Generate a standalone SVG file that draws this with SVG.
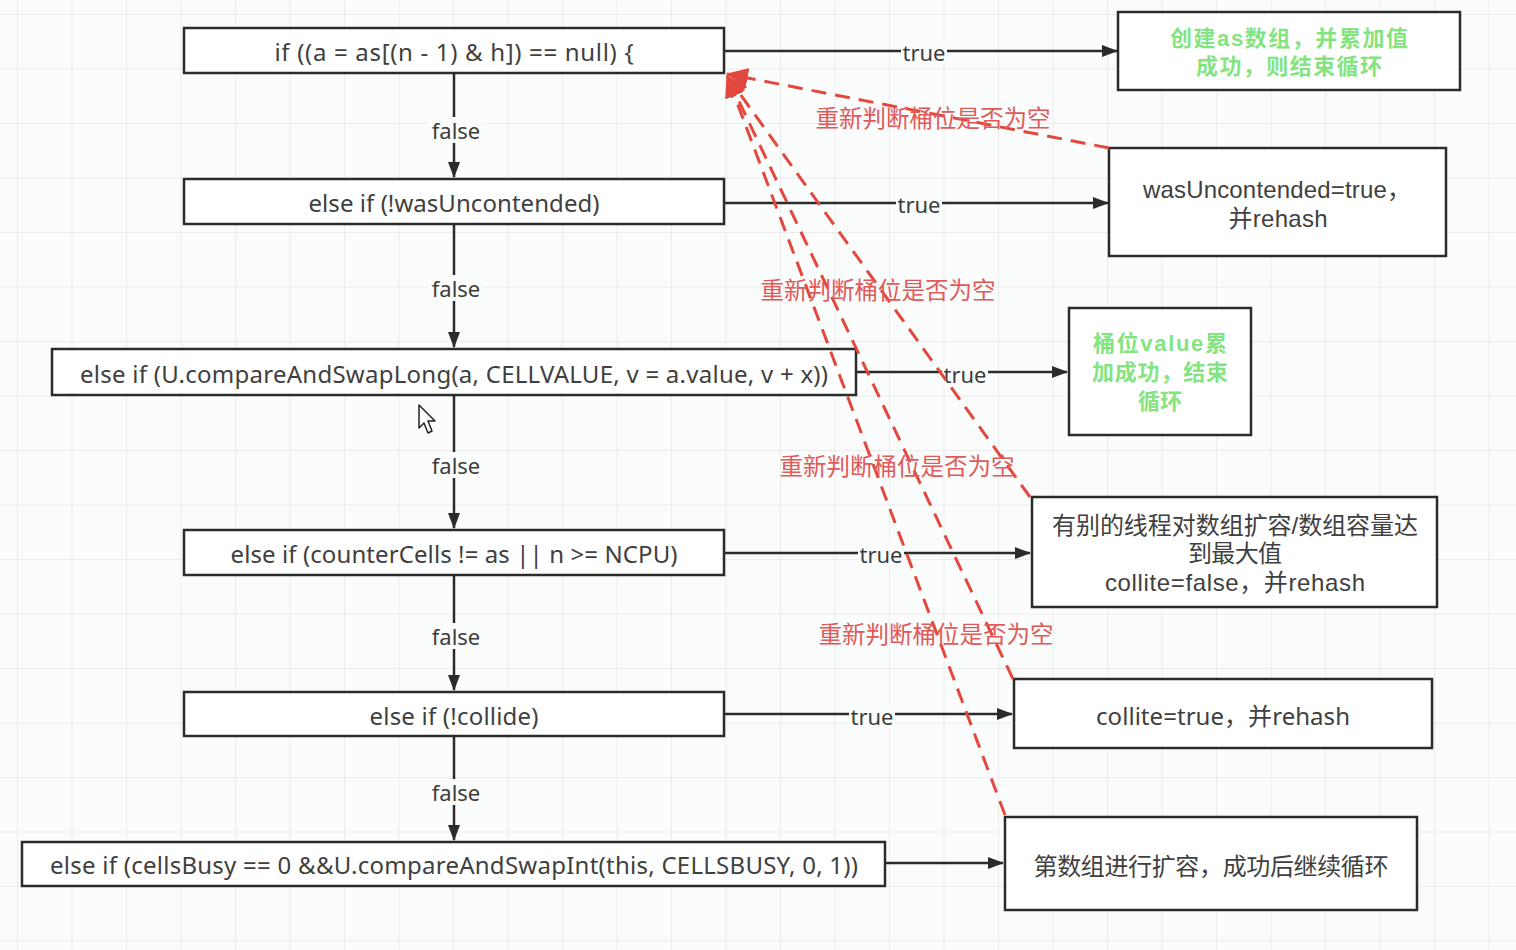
<svg xmlns="http://www.w3.org/2000/svg" width="1516" height="950" viewBox="0 0 1516 950">
<defs>
<pattern id="grid" x="17" y="14" width="54.5" height="54.5" patternUnits="userSpaceOnUse">
<path d="M0 0 H54.5 M0 0 V54.5" fill="none" stroke="#e6e8e8" stroke-width="1.5"/>
</pattern>
<marker id="arr" viewBox="0 0 16 12" refX="15" refY="6" markerWidth="16" markerHeight="12" markerUnits="userSpaceOnUse" orient="auto">
<path d="M0 0 L16 6 L0 12 Z" fill="#2b2b2b"/>
</marker>
<marker id="rarr" viewBox="0 0 20 18" refX="19" refY="9" markerWidth="22" markerHeight="20" markerUnits="userSpaceOnUse" orient="auto">
<path d="M0 0 L20 9 L0 18 Z" fill="#e2483e"/>
</marker>
</defs>
<style>
.box{fill:#ffffff;stroke:#2b2b2b;stroke-width:2.5}
.t{font-family:"Noto Sans","Noto Sans CJK SC",sans-serif;font-size:24px;fill:#404040;text-anchor:middle;dominant-baseline:central}
.m{font-family:"Liberation Sans","Noto Sans CJK SC",sans-serif;font-size:24px;fill:#404040;text-anchor:middle;dominant-baseline:central}
.g{font-family:"Liberation Sans","Noto Sans CJK SC",sans-serif;font-size:22px;font-weight:bold;fill:#84e47f;text-anchor:middle;dominant-baseline:central}
.lbl{font-family:"Noto Sans","Noto Sans CJK SC",sans-serif;font-size:22px;fill:#3c3c3c;text-anchor:middle;dominant-baseline:central}
.lb{fill:#fbfcfc}
.r{font-family:"Noto Sans CJK SC",sans-serif;font-size:23.5px;fill:#e05a5a;text-anchor:middle;dominant-baseline:central}
.e{stroke:#2b2b2b;stroke-width:2.5;fill:none;marker-end:url(#arr)}
.d{stroke:#e2483e;stroke-width:3;fill:none;stroke-dasharray:15 9;marker-end:url(#rarr)}
</style>
<rect width="1516" height="950" fill="#fbfcfc"/>
<rect width="1516" height="950" fill="url(#grid)"/>

<g id="connectors">
<line class="e" x1="454" y1="73" x2="454" y2="177"/>
<line class="e" x1="454" y1="224" x2="454" y2="347"/>
<line class="e" x1="454" y1="395" x2="454" y2="528"/>
<line class="e" x1="454" y1="575" x2="454" y2="690"/>
<line class="e" x1="454" y1="736" x2="454" y2="840"/>
<line class="e" x1="724" y1="51" x2="1117" y2="51"/>
<line class="e" x1="724" y1="203" x2="1108" y2="203"/>
<line class="e" x1="856" y1="372" x2="1067" y2="372"/>
<line class="e" x1="724" y1="553" x2="1030" y2="553"/>
<line class="e" x1="724" y1="714" x2="1012" y2="714"/>
<line class="e" x1="885" y1="863" x2="1003" y2="863"/>
<rect class="lb" x="428" y="117" width="54" height="26"/>
<text class="lbl" x="456" y="130">false</text>
<rect class="lb" x="428" y="275" width="54" height="26"/>
<text class="lbl" x="456" y="288">false</text>
<rect class="lb" x="428" y="452" width="54" height="26"/>
<text class="lbl" x="456" y="465">false</text>
<rect class="lb" x="428" y="623" width="54" height="26"/>
<text class="lbl" x="456" y="636">false</text>
<rect class="lb" x="428" y="779" width="54" height="26"/>
<text class="lbl" x="456" y="792">false</text>
<rect class="lb" x="901" y="40" width="46" height="24"/>
<text class="lbl" x="924" y="52">true</text>
<rect class="lb" x="896" y="192" width="46" height="24"/>
<text class="lbl" x="919" y="204">true</text>
<rect class="lb" x="942" y="362" width="46" height="24"/>
<text class="lbl" x="965" y="374">true</text>
<rect class="lb" x="858" y="542" width="46" height="24"/>
<text class="lbl" x="881" y="554">true</text>
<rect class="lb" x="849" y="704" width="46" height="24"/>
<text class="lbl" x="872" y="716">true</text>
</g>

<g id="n1"><rect class="box" x="184" y="28" width="540" height="45"/><text class="t" x="454" y="51" textLength="359">if ((a = as[(n - 1) &amp; h]) == null) {</text></g>
<g id="n2"><rect class="box" x="184" y="179" width="540" height="45"/><text class="t" x="454" y="202" textLength="291">else if (!wasUncontended)</text></g>
<g id="n3"><rect class="box" x="52" y="349" width="804" height="46"/><text class="t" x="454" y="373" textLength="748">else if (U.compareAndSwapLong(a, CELLVALUE, v = a.value, v + x))</text></g>
<g id="n4"><rect class="box" x="184" y="530" width="540" height="45"/><text class="t" x="454" y="553" textLength="447">else if (counterCells != as || n &gt;= NCPU)</text></g>
<g id="n5"><rect class="box" x="184" y="692" width="540" height="44"/><text class="t" x="454" y="715" textLength="169">else if (!collide)</text></g>
<g id="n6"><rect class="box" x="22" y="842" width="863" height="44"/><text class="t" x="454" y="864" textLength="808">else if (cellsBusy == 0 &amp;&amp;U.compareAndSwapInt(this, CELLSBUSY, 0, 1))</text></g>

<g id="r1"><rect class="box" x="1118" y="12" width="342" height="78"/><text class="g" x="1289" y="38" textLength="238">创建as数组，并累加值</text><text class="g" x="1289" y="66" textLength="186">成功，则结束循环</text></g>
<g id="r2"><rect class="box" x="1109" y="148" width="337" height="108"/><text class="m" x="1277" y="189" textLength="268">wasUncontended=true，</text><text class="m" x="1278" y="218" textLength="99">并rehash</text></g>
<g id="r3"><rect class="box" x="1069" y="308" width="182" height="127"/><text class="g" x="1160" y="343" textLength="134">桶位value累</text><text class="g" x="1160" y="372" textLength="136">加成功，结束</text><text class="g" x="1160" y="401">循环</text></g>
<g id="r4"><rect class="box" x="1032" y="497" width="405" height="110"/><text class="m" x="1235" y="525" textLength="366">有别的线程对数组扩容/数组容量达</text><text class="m" x="1235" y="553" textLength="94">到最大值</text><text class="m" x="1235" y="582" textLength="260">collite=false，并rehash</text></g>
<g id="r5"><rect class="box" x="1014" y="679" width="418" height="69"/><text class="t" x="1223" y="715" textLength="254">collite=true，并rehash</text></g>
<g id="r6"><rect class="box" x="1005" y="817" width="412" height="93"/><text class="t" x="1211" y="865" textLength="355">第数组进行扩容，成功后继续循环</text></g>

<g id="rehash-links">
<line class="d" x1="1109" y1="148" x2="727" y2="74"/>
<line class="d" x1="1030" y1="497" x2="727" y2="76"/>
<line class="d" x1="1013" y1="679" x2="727" y2="76"/>
<line class="d" x1="1005" y1="815" x2="727" y2="76"/>
<text class="r" x="933" y="117">重新判断桶位是否为空</text>
<text class="r" x="878" y="289">重新判断桶位是否为空</text>
<text class="r" x="897" y="465">重新判断桶位是否为空</text>
<text class="r" x="936" y="633">重新判断桶位是否为空</text>
</g>

<path d="M419 405 L419 428 L424 423 L428 433 L432 431 L428 421 L435 421 Z" fill="#ffffff" stroke="#222" stroke-width="1.5" stroke-linejoin="round"/>
</svg>
